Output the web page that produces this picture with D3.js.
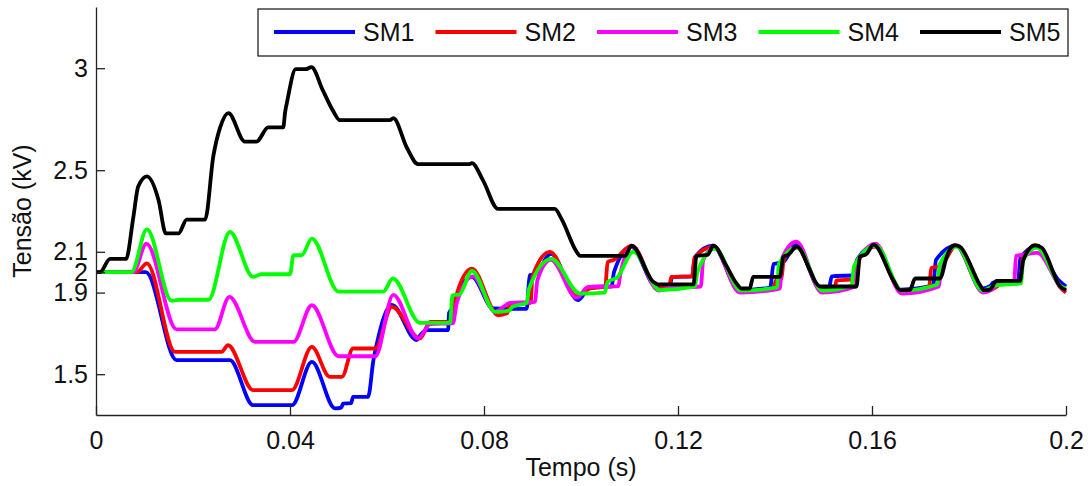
<!DOCTYPE html>
<html>
<head>
<meta charset="utf-8">
<script src="https://cdn.jsdelivr.net/npm/d3@7"></script>
<style>
  body { margin: 0; background: #fff; }
  text { font-family: "Liberation Sans", Arial, sans-serif; }
</style>
</head>
<body>
<div id="chart"></div>
<script>
// axis ticks
var xTickVals = [0, 0.04, 0.08, 0.12, 0.16, 0.2];
var xTickLabels = ['0', '0.04', '0.08', '0.12', '0.16', '0.2'];
var yTickVals = [1.5, 1.9, 2, 2.1, 2.5, 3];
var yTickLabels = ['1.5', '1.9', '2', '2.1', '2.5', '3'];

var seriesNames = ['SM1', 'SM2', 'SM3', 'SM4', 'SM5'];
var seriesColors = ['#0000ff', '#ff0000', '#ff00ff', '#00ff00', '#000000'];

// [tempo (s), tensao (kV)]
var sm1 = [[0,2.0],[0.0103,2.0],[0.0166,1.569],[0.0276,1.569],[0.0324,1.348],[0.0404,1.348],[0.0445,1.56],[0.0493,1.332],[0.0506,1.336],[0.0509,1.356],[0.0526,1.358],[0.0530,1.389],[0.0561,1.389],[0.0572,1.569],[0.0579,1.65],[0.0610,1.84],[0.0661,1.667],[0.0668,1.69],[0.0683,1.716],[0.0726,1.716],[0.0728,1.8],[0.0737,1.83],[0.0746,1.895],[0.0775,1.977],[0.0819,1.822],[0.0888,1.82],[0.0894,1.985],[0.0905,1.99],[0.0938,2.09],[0.0994,1.863],[0.1019,1.928],[0.1063,1.93],[0.1068,2.0],[0.1103,2.125],[0.1156,1.928],[0.1183,1.935],[0.1188,1.977],[0.1229,1.98],[0.1235,2.075],[0.1272,2.13],[0.1326,1.912],[0.1390,1.925],[0.1397,2.04],[0.1417,2.05],[0.1443,2.135],[0.1495,1.915],[0.1512,1.93],[0.1517,1.98],[0.1563,1.985],[0.1569,2.06],[0.1605,2.13],[0.1660,1.915],[0.1726,1.935],[0.1732,2.06],[0.1773,2.13],[0.1826,1.92],[0.1845,1.935],[0.1850,1.95],[0.1901,1.95],[0.1906,2.07],[0.1939,2.125],[0.1985,1.96],[0.2,1.93]];
var sm2 = [[0,2.0],[0.0084,2.0],[0.0105,2.043],[0.0163,1.609],[0.0259,1.609],[0.0272,1.642],[0.0324,1.422],[0.0404,1.422],[0.0445,1.634],[0.0482,1.487],[0.0507,1.487],[0.0530,1.626],[0.0576,1.626],[0.0610,1.83],[0.0668,1.675],[0.0689,1.756],[0.0730,1.756],[0.0741,1.87],[0.0775,2.018],[0.0829,1.789],[0.0848,1.80],[0.0854,1.847],[0.0896,1.85],[0.0900,1.98],[0.0936,2.1],[0.0991,1.882],[0.1019,1.92],[0.1050,1.93],[0.1055,2.05],[0.1067,2.06],[0.1105,2.13],[0.1159,1.92],[0.1182,1.93],[0.1186,1.977],[0.1229,1.98],[0.1234,2.07],[0.1274,2.125],[0.1327,1.905],[0.1397,1.92],[0.1402,1.96],[0.1413,1.965],[0.1418,2.06],[0.1445,2.12],[0.1497,1.91],[0.1523,1.925],[0.1527,1.96],[0.1566,1.965],[0.1573,2.07],[0.1607,2.125],[0.1661,1.905],[0.1718,1.93],[0.1722,2.02],[0.1741,2.03],[0.1774,2.13],[0.1829,1.905],[0.1858,1.93],[0.1862,1.945],[0.1905,1.95],[0.1911,2.07],[0.1940,2.13],[0.1990,1.92],[0.2,1.9]];
var sm3 = [[0,2.0],[0.0077,2.0],[0.0104,2.14],[0.0166,1.72],[0.0245,1.72],[0.0275,1.879],[0.0328,1.658],[0.0407,1.658],[0.0445,1.838],[0.0500,1.588],[0.0576,1.588],[0.0613,1.889],[0.0664,1.675],[0.0689,1.745],[0.0736,1.75],[0.0744,1.85],[0.0777,1.98],[0.0823,1.806],[0.0854,1.85],[0.0905,1.855],[0.0910,1.96],[0.0938,2.06],[0.0991,1.875],[0.1015,1.928],[0.1077,1.932],[0.1081,1.99],[0.1105,2.125],[0.1160,1.91],[0.1187,1.925],[0.1247,1.93],[0.1252,2.06],[0.1274,2.12],[0.1328,1.9],[0.1410,1.92],[0.1415,2.07],[0.1444,2.15],[0.1497,1.9],[0.1566,1.93],[0.1571,2.05],[0.1607,2.14],[0.1662,1.895],[0.1738,1.93],[0.1743,2.03],[0.1775,2.13],[0.1829,1.9],[0.1855,1.93],[0.1860,1.945],[0.1893,1.945],[0.1897,2.08],[0.1910,2.085],[0.1941,2.095],[0.1990,1.925],[0.2,1.91]];
var sm4 = [[0,2.0],[0.0073,2.0],[0.0105,2.21],[0.0156,1.86],[0.0173,1.865],[0.0232,1.865],[0.0276,2.197],[0.0324,1.977],[0.0340,1.99],[0.0400,1.99],[0.0407,2.083],[0.0424,2.083],[0.0445,2.165],[0.0500,1.905],[0.0592,1.905],[0.0612,1.969],[0.0668,1.752],[0.0730,1.752],[0.0735,1.887],[0.0749,1.89],[0.0775,2.006],[0.0823,1.806],[0.0852,1.812],[0.0858,1.83],[0.0888,1.85],[0.0893,1.92],[0.0939,2.065],[0.0998,1.895],[0.1049,1.9],[0.1055,1.953],[0.1075,1.975],[0.1108,2.1],[0.1163,1.912],[0.1235,1.93],[0.1240,2.0],[0.1276,2.115],[0.1330,1.91],[0.1404,1.925],[0.1408,2.04],[0.1446,2.12],[0.1498,1.91],[0.1558,1.935],[0.1563,2.03],[0.1608,2.13],[0.1662,1.91],[0.1735,1.94],[0.1740,2.04],[0.1775,2.125],[0.1828,1.91],[0.1855,1.935],[0.1907,1.945],[0.1912,2.06],[0.1940,2.12],[0.1990,1.93],[0.2,1.92]];
var sm5 = [[0,2.0],[0.0008,2.0],[0.0029,2.065],[0.0062,2.065],[0.0077,2.27],[0.0087,2.42],[0.0105,2.47],[0.0129,2.353],[0.0144,2.19],[0.0170,2.19],[0.0187,2.258],[0.0225,2.258],[0.0242,2.57],[0.0256,2.71],[0.0273,2.78],[0.0307,2.64],[0.0331,2.64],[0.0355,2.71],[0.0386,2.71],[0.0390,2.786],[0.0394,2.835],[0.0412,2.995],[0.0432,2.995],[0.0444,3.005],[0.0468,2.89],[0.0489,2.79],[0.0503,2.745],[0.0606,2.745],[0.0613,2.755],[0.0641,2.61],[0.0664,2.53],[0.0770,2.53],[0.0775,2.535],[0.0798,2.45],[0.0829,2.31],[0.0946,2.31],[0.0960,2.26],[0.0991,2.1],[0.0998,2.08],[0.1091,2.08],[0.1104,2.13],[0.1149,1.953],[0.1159,1.94],[0.1232,1.94],[0.1238,2.08],[0.1261,2.085],[0.1273,2.13],[0.1300,2.03],[0.1321,1.944],[0.1331,1.92],[0.1348,1.92],[0.1355,1.977],[0.1410,1.977],[0.1417,2.075],[0.1427,2.085],[0.1445,2.125],[0.1472,2.01],[0.1483,1.953],[0.1493,1.93],[0.1568,1.93],[0.1575,2.075],[0.1589,2.09],[0.1603,2.135],[0.1644,1.96],[0.1658,1.912],[0.1678,1.912],[0.1689,1.969],[0.1740,1.969],[0.1754,2.075],[0.1760,2.11],[0.1771,2.132],[0.1781,2.125],[0.1823,1.936],[0.1830,1.912],[0.1843,1.915],[0.1857,1.957],[0.1905,1.957],[0.1912,2.06],[0.1936,2.132],[0.1950,2.12],[0.1988,1.93],[0.2,1.912]];

var allSeries = [sm1, sm2, sm3, sm4, sm5];

var width = 1088, height = 486;
var margin = {left: 96, right: 22, top: 7, bottom: 71};

var svg = d3.select('#chart').append('svg')
  .attr('width', width)
  .attr('height', height)
  .style('background', '#fff');

var x = d3.scaleLinear().domain([0, 0.2]).range([margin.left, width - margin.right]);
var y = d3.scaleLinear().domain([1.3, 3.3]).range([height - margin.bottom, margin.top]);

var line = d3.line()
  .x(function(d) { return x(d[0]); })
  .y(function(d) { return y(d[1]); })
  .curve(d3.curveMonotoneX);

svg.append('g').selectAll('path')
  .data(allSeries)
  .enter()
  .append('path')
  .attr('d', line)
  .attr('fill', 'none')
  .attr('stroke', function(d, i) { return seriesColors[i]; })
  .attr('stroke-width', 3.8)
  .attr('stroke-linejoin', 'round');

// axes, ticks pointing inwards like matlab
var xAxis = d3.axisBottom(x)
  .tickValues(xTickVals)
  .tickFormat(function(d, i) { return xTickLabels[i]; })
  .tickSizeInner(-9)
  .tickSizeOuter(0)
  .tickPadding(16);

var yAxis = d3.axisLeft(y)
  .tickValues(yTickVals)
  .tickFormat(function(d, i) { return yTickLabels[i]; })
  .tickSizeInner(-9)
  .tickSizeOuter(0)
  .tickPadding(8);

var gx = svg.append('g')
  .attr('transform', 'translate(0,' + (height - margin.bottom) + ')')
  .call(xAxis);
var gy = svg.append('g')
  .attr('transform', 'translate(' + margin.left + ',0)')
  .call(yAxis);

[gx, gy].forEach(function(g) {
  g.attr('font-family', null).attr('font-size', null);
  g.selectAll('path, line').attr('stroke', '#222').attr('stroke-width', 1.3);
  g.selectAll('text').attr('fill', '#111').style('font-size', '25px');
});

svg.append('text')
  .attr('x', x(0.1))
  .attr('y', 476)
  .attr('text-anchor', 'middle')
  .style('font-size', '25px')
  .attr('fill', '#111')
  .text('Tempo (s)');

svg.append('text')
  .attr('transform', 'translate(31,' + y(2.3) + ') rotate(-90)')
  .attr('text-anchor', 'middle')
  .style('font-size', '25px')
  .attr('fill', '#111')
  .text('Tensão (kV)');

// legend
var legend = svg.append('g');
legend.append('rect')
  .attr('x', 258).attr('y', 9)
  .attr('width', 810).attr('height', 47)
  .attr('fill', '#fff')
  .attr('stroke', '#111')
  .attr('stroke-width', 1.2);

var items = legend.selectAll('.item')
  .data(seriesNames)
  .enter()
  .append('g')
  .attr('class', 'item')
  .attr('transform', function(d, i) { return 'translate(' + (274 + i * 161.5) + ',32)'; });

items.append('line')
  .attr('x1', 0).attr('x2', 81)
  .attr('stroke', function(d, i) { return seriesColors[i]; })
  .attr('stroke-width', 3.8);

items.append('text')
  .attr('x', 89)
  .attr('dy', '0.35em')
  .style('font-size', '25px')
  .attr('fill', '#111')
  .text(function(d) { return d; });
</script>
</body>
</html>
